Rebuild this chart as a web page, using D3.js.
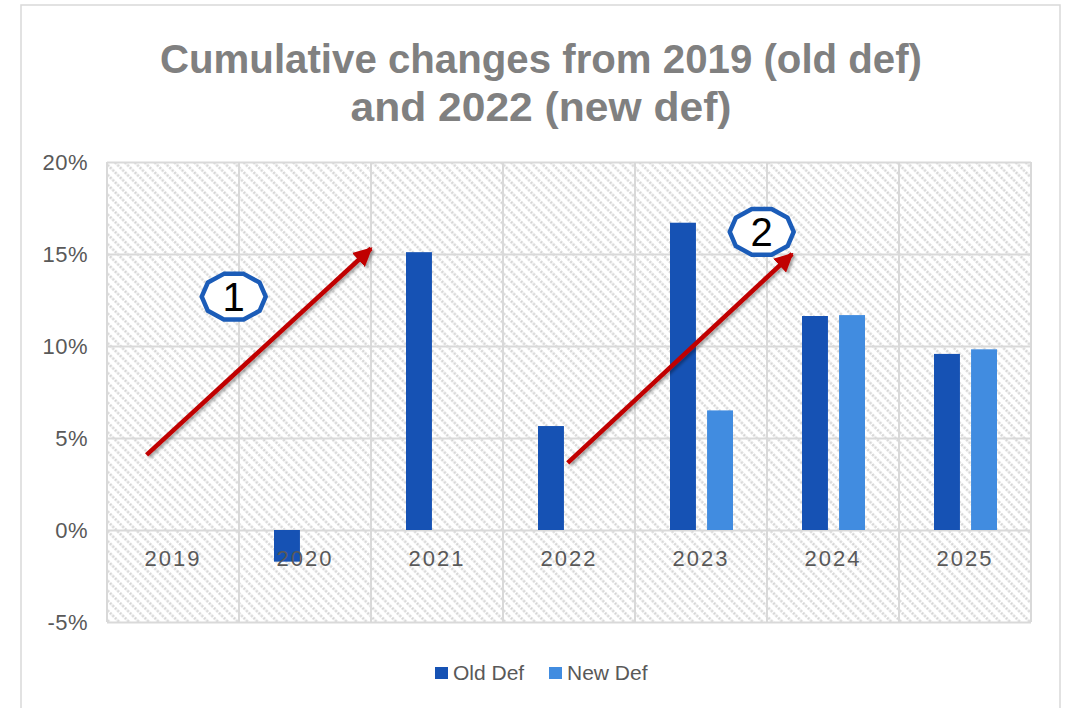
<!DOCTYPE html>
<html>
<head>
<meta charset="utf-8">
<script src="https://cdn.jsdelivr.net/npm/d3@7"></script>
<style>
  body { margin: 0; background: #fff; }
  text { font-family: "Liberation Sans", Arial, sans-serif; }
</style>
</head>
<body>
<svg id="chart"></svg>
<script>
const years = ["2019", "2020", "2021", "2022", "2023", "2024", "2025"];
const oldDef = [null, -0.0172, 0.151, 0.0565, 0.167, 0.1163, 0.0957];
const newDef = [null, null, null, null, 0.065, 0.1168, 0.0982];
const seriesNames = ["Old Def", "New Def"];
const seriesColors = ["#1652b4", "#418ce0"];
const yTicks = [-0.05, 0, 0.05, 0.10, 0.15, 0.20];
const titleLines = ["Cumulative changes from 2019 (old def)", "and 2022 (new def)"];
const titleWidths = [762, 381];

// annotations in data terms: [year, fraction of band, value]
const arrows = [
  { from: ["2019", 0.30, 0.0408], to: ["2021", 0.0, 0.1530] },
  { from: ["2022", 0.49, 0.0365], to: ["2024", 0.19, 0.1500] }
];
const badges = [
  { label: "1", at: ["2019", 0.96, 0.1268] },
  { label: "2", at: ["2023", 0.96, 0.1620] }
];

const width = 1069;
const height = 708;
const plot = { left: 107, right: 1031, top: 162, bottom: 622 };

const svg = d3.select("#chart")
  .attr("width", width)
  .attr("height", height);

const defs = svg.append("defs");

const hatch = defs.append("pattern")
  .attr("id", "hatch")
  .attr("patternUnits", "userSpaceOnUse")
  .attr("width", 7)
  .attr("height", 7)
  .attr("patternTransform", "rotate(-45)");
hatch.append("rect").attr("width", 7).attr("height", 7).attr("fill", "#fff");
hatch.append("line")
  .attr("x1", 1.5).attr("y1", 0).attr("x2", 1.5).attr("y2", 7)
  .attr("stroke", "#d3d3d3")
  .attr("stroke-width", 2.4)
  .attr("stroke-dasharray", "2.2 1.3");

const shadow = defs.append("filter")
  .attr("id", "shadow")
  .attr("x", "-20%").attr("y", "-20%")
  .attr("width", "140%").attr("height", "140%");
shadow.append("feDropShadow")
  .attr("dx", 2).attr("dy", 2)
  .attr("stdDeviation", 1.5)
  .attr("flood-color", "#000")
  .attr("flood-opacity", 0.35);

defs.append("marker")
  .attr("id", "head")
  .attr("viewBox", "0 0 10 10")
  .attr("refX", 9).attr("refY", 5)
  .attr("markerWidth", 4.2).attr("markerHeight", 4.2)
  .attr("markerUnits", "strokeWidth")
  .attr("orient", "auto")
  .append("path")
  .attr("d", "M0,0 L10,5 L0,10 Z")
  .attr("fill", "#c00000");

// outer chart border
svg.append("rect")
  .attr("x", 21).attr("y", 5)
  .attr("width", 1039).attr("height", 740)
  .attr("fill", "#fff")
  .attr("stroke", "#d9d9d9")
  .attr("stroke-width", 1.5);

// title
svg.append("g")
  .selectAll("text")
  .data(titleLines)
  .join("text")
  .attr("x", 541)
  .attr("y", (d, i) => 73 + i * 48)
  .attr("text-anchor", "middle")
  .attr("font-size", 40)
  .attr("font-weight", "bold")
  .attr("fill", "#808080")
  .attr("textLength", (d, i) => titleWidths[i])
  .attr("lengthAdjust", "spacingAndGlyphs")
  .text(d => d);

const xScale = d3.scaleBand()
  .domain(years)
  .range([plot.left, plot.right]);

const xInner = d3.scaleBand()
  .domain(seriesNames)
  .range([35, 98])
  .paddingInner(0.3);

const yScale = d3.scaleLinear()
  .domain([-0.05, 0.20])
  .range([plot.bottom, plot.top]);

const pos = a => [xScale(a[0]) + a[1] * xScale.bandwidth(), yScale(a[2])];
const pct = d => Math.round(d * 100) + "%";

// plot background
svg.append("rect")
  .attr("x", plot.left).attr("y", plot.top)
  .attr("width", plot.right - plot.left)
  .attr("height", plot.bottom - plot.top)
  .attr("fill", "url(#hatch)");

// grid
const yAxis = d3.axisLeft(yScale)
  .tickValues(yTicks)
  .tickFormat(pct)
  .tickSize(-(plot.right - plot.left))
  .tickPadding(19);

const gy = svg.append("g")
  .attr("transform", "translate(" + plot.left + ",0)")
  .call(yAxis);
gy.select(".domain").remove();
gy.selectAll(".tick line").attr("stroke", "#d9d9d9").attr("stroke-width", 2);
gy.selectAll(".tick text")
  .attr("font-size", 22)
  .attr("fill", "#595959")
  .attr("font-family", "Liberation Sans, Arial, sans-serif")
  .style("letter-spacing", "0.5px");

svg.append("g")
  .selectAll("line")
  .data(years.concat(["end"]))
  .join("line")
  .attr("x1", (d, i) => i < years.length ? xScale(d) : plot.right)
  .attr("x2", (d, i) => i < years.length ? xScale(d) : plot.right)
  .attr("y1", plot.top)
  .attr("y2", plot.bottom)
  .attr("stroke", "#d9d9d9")
  .attr("stroke-width", 2);

// bars
const rows = years.map((y, i) => ({ year: y, values: [oldDef[i], newDef[i]] }));
const barGroups = svg.append("g")
  .selectAll("g")
  .data(rows)
  .join("g")
  .attr("transform", d => "translate(" + xScale(d.year) + ",0)");

barGroups.selectAll("rect")
  .data(d => d.values.map((v, j) => ({ name: seriesNames[j], value: v, color: seriesColors[j] }))
    .filter(e => e.value !== null))
  .join("rect")
  .attr("x", d => xInner(d.name))
  .attr("width", xInner.bandwidth())
  .attr("y", d => yScale(Math.max(0, d.value)))
  .attr("height", d => Math.abs(yScale(d.value) - yScale(0)))
  .attr("fill", d => d.color);

// category labels sit just under the zero line
const xAxis = d3.axisBottom(xScale).tickSize(0).tickPadding(20);
const gx = svg.append("g")
  .attr("transform", "translate(0," + yScale(0) + ")")
  .call(xAxis);
gx.select(".domain").remove();
gx.selectAll(".tick text")
  .attr("font-size", 22)
  .attr("fill", "#595959")
  .attr("font-family", "Liberation Sans, Arial, sans-serif")
  .style("letter-spacing", "2px");

// legend
const legend = svg.append("g").attr("transform", "translate(435,667)");
const legendX = [0, 114];
seriesNames.forEach((name, i) => {
  const g = legend.append("g").attr("transform", "translate(" + legendX[i] + ",0)");
  g.append("rect").attr("width", 13).attr("height", 12).attr("fill", seriesColors[i]);
  g.append("text")
    .attr("x", 18).attr("y", 13)
    .attr("font-size", 21)
    .attr("fill", "#595959")
    .text(name);
});

// arrows
svg.append("g")
  .selectAll("line")
  .data(arrows)
  .join("line")
  .attr("x1", d => pos(d.from)[0])
  .attr("y1", d => pos(d.from)[1])
  .attr("x2", d => pos(d.to)[0])
  .attr("y2", d => pos(d.to)[1])
  .attr("stroke", "#c00000")
  .attr("stroke-width", 4.5)
  .attr("marker-end", "url(#head)")
  .attr("filter", "url(#shadow)");

// numbered badges
const poly = (rx, ry, n) => d3.range(n).map(k => {
  const a = (k / n) * 2 * Math.PI;
  return [rx * Math.cos(a), ry * Math.sin(a)];
});
const badge = svg.append("g")
  .selectAll("g")
  .data(badges)
  .join("g")
  .attr("transform", d => "translate(" + pos(d.at)[0] + "," + pos(d.at)[1] + ")");
badge.append("path")
  .attr("d", "M" + poly(32, 24, 10).join("L") + "Z")
  .attr("fill", "#fff")
  .attr("stroke", "#1b5cb8")
  .attr("stroke-width", 4.5)
  .attr("stroke-linejoin", "round");
badge.append("text")
  .attr("text-anchor", "middle")
  .attr("y", 14)
  .attr("font-size", 40)
  .attr("fill", "#000")
  .text(d => d.label);
</script>
</body>
</html>
